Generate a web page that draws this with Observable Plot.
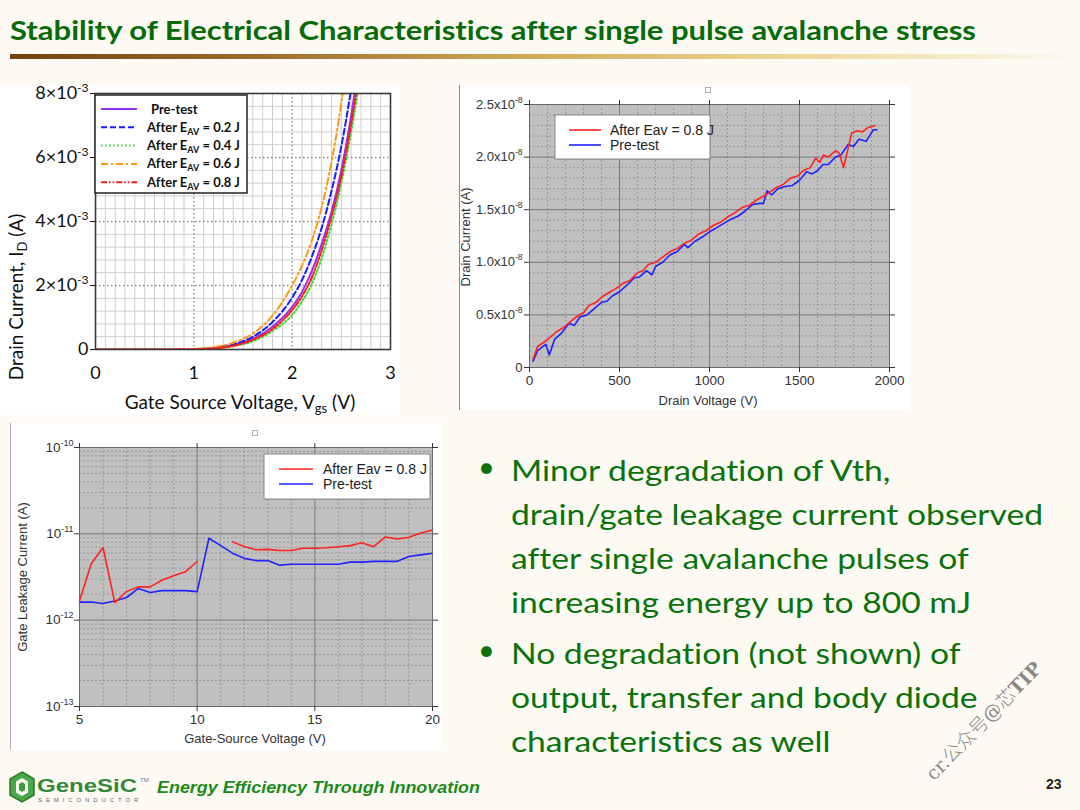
<!DOCTYPE html>
<html><head><meta charset="utf-8">
<script src="https://cdn.jsdelivr.net/npm/d3@7"></script>
<script src="https://cdn.jsdelivr.net/npm/@observablehq/plot@0.6"></script>
<style>
html,body{margin:0;padding:0;}
body{width:1080px;height:810px;position:relative;overflow:hidden;background:#fcfaf3;font-family:Lato,"Open Sans",sans-serif;font-variant-ligatures:none;font-feature-settings:"liga" 0,"clig" 0,"dlig" 0;}
.abs{position:absolute;}
.fit{white-space:nowrap;transform-origin:left top;}
.bul{position:absolute;left:0;font-size:29px;color:#0b720b;white-space:nowrap;}
svg text{font-variant-ligatures:none;}
</style></head><body>
<div id="title" class="abs fit" style="left:10px;top:13px;font-weight:bold;font-size:27px;color:#086a08;">Stability of Electrical Characteristics after single pulse avalanche stress</div>
<div class="abs" style="left:10px;top:54px;width:1070px;height:5px;background:linear-gradient(to right,#74410e 0%,#a0702f 25%,#d2ad5e 50%,#ecd593 72%,rgba(252,250,243,0) 100%);"></div>

<div id="p1" class="abs" style="left:0;top:85px;width:400px;height:330px;background:#fff;"></div>
<div id="p2" class="abs" style="left:459px;top:85px;width:449px;height:325px;background:#fff;border-left:1px solid #8a8a8a;"></div>
<div class="abs" style="left:705px;top:87px;width:4px;height:4px;border:1px solid #b0b0b0;"></div>
<div id="p3" class="abs" style="left:10px;top:423px;width:430px;height:327px;background:#fff;border-left:1px solid #b0b0b0;"></div>
<div class="abs" style="left:252px;top:430px;width:4px;height:4px;border:1px solid #b0b0b0;"></div>

<div id="bullets" class="abs" style="left:470px;top:448px;width:600px;height:310px;">
  <div class="bul" style="top:0;left:8px;">•</div>
  <div id="btext" class="fit" style="position:absolute;left:41px;top:0;font-size:29px;line-height:44px;color:#0b720b;">
    <div>Minor degradation of Vth,</div>
    <div>drain/gate leakage current observed</div>
    <div>after single avalanche pulses of</div>
    <div>increasing energy up to 800 mJ</div>
    <div style="margin-top:7px;">No degradation (not shown) of</div>
    <div>output, transfer and body diode</div>
    <div>characteristics as well</div>
  </div>
  <div class="bul" style="top:183px;left:8px;">•</div>
</div>

<div class="abs" style="left:928px;top:762px;font-family:'DejaVu Serif','Noto Sans CJK SC',serif;font-size:19px;color:rgba(105,105,105,0.8);transform:rotate(-45.8deg);transform-origin:left center;white-space:nowrap;">cr.<span style="font-family:'Noto Sans CJK SC';font-weight:300;">公众号</span>@<span style="font-family:'Noto Sans CJK SC';font-weight:300;">芯</span><b>TIP</b></div>

<svg class="abs" style="left:8px;top:771px;" width="28" height="32" viewBox="0 0 26 32">
  <polygon points="13,1 25,8 25,24 13,31 1,24 1,8" fill="#4aa84a" stroke="#2a7a2a" stroke-width="1.5"/>
  <polygon points="13,7 19,10.5 19,21.5 13,25 7,21.5 7,10.5" fill="#fcfaf3"/>
  <polygon points="13,11 16,13 16,19 13,21 10,19 10,13" fill="#3c9a3c"/>
</svg>
<div id="logo" class="abs fit" style="left:37px;top:776px;font-family:'Liberation Sans',Arial,sans-serif;font-weight:bold;font-size:19px;line-height:19px;color:#34883a;">GeneSiC</div>
<div class="abs" style="left:140px;top:777px;font-family:'Liberation Sans',Arial,sans-serif;font-size:6px;color:#777;">TM</div>
<div class="abs" style="left:38px;top:797px;font-family:'Liberation Sans',Arial,sans-serif;font-size:6px;color:#666;letter-spacing:3.9px;">SEMICONDUCTOR</div>
<div id="slogan" class="abs fit" style="left:157px;top:778px;font-family:'Liberation Sans',Arial,sans-serif;font-weight:bold;font-style:italic;font-size:17px;color:#1b8a1b;">Energy Efficiency Through Innovation</div>
<div class="abs" style="left:1046px;top:776px;font-family:'Liberation Sans',Arial,sans-serif;font-weight:bold;font-size:14px;color:#222;">23</div>

<script>
// ---------- Chart 1: transfer characteristics (ID in units of 1e-3 A) ----------
const vgs = [0, 0.5, 1.0, 1.2, 1.4, 1.6, 1.8, 2.0, 2.1, 2.2, 2.3, 2.4, 2.5, 2.6, 2.7];
const idPreTest = [0, 0.001, 0.01, 0.04, 0.13, 0.33, 0.71, 1.33, 1.8, 2.45, 3.3, 4.3, 5.6, 7.3, 9.5];
const id02J = [0, 0.001, 0.015, 0.05, 0.16, 0.4, 0.86, 1.62, 2.17, 2.9, 3.8, 4.95, 6.35, 8.15, 10.3];
const id04J = [0, 0.001, 0.008, 0.03, 0.1, 0.26, 0.58, 1.08, 1.5, 2.05, 2.85, 3.9, 5.2, 6.8, 8.7];
const id06J = [0, 0.001, 0.02, 0.07, 0.21, 0.5, 1.06, 2.0, 2.62, 3.4, 4.45, 5.85, 7.7, 10.0, 12.8];
const id08J = [0, 0.001, 0.01, 0.035, 0.115, 0.3, 0.64, 1.23, 1.66, 2.25, 3.1, 4.15, 5.4, 7.05, 9.0];
const series1Names = ["Pre-test", "After E_AV = 0.2 J", "After E_AV = 0.4 J", "After E_AV = 0.6 J", "After E_AV = 0.8 J"];
const series1Colors = ["#9a30f0", "#1a1aff", "#33dd33", "#ff9914", "#ff1a1a"];
const series1Dash = [null, "6,3", "1.6,2.4", "7,3,2,3", "6,2,1.6,2,1.6,2"];
const x1Ticks = [0, 1, 2, 3];
const y1Ticks = [0, 2, 4, 6, 8];
const y1TickLabels = ["0", "2×10^-3", "4×10^-3", "6×10^-3", "8×10^-3"];

// ---------- Chart 2: drain leakage (ID in units of 1e-8 A) ----------
const vdAfter = [20,45,80,110,150,190,230,260,300,330,370,410,440,480,520,560,600,630,660,700,740,780,820,860,900,940,980,1020,1060,1100,1140,1180,1220,1260,1300,1330,1370,1410,1450,1490,1520,1560,1590,1612,1634,1658,1700,1720,1745,1790,1820,1850,1880,1920];
const idAfter = [0.08,0.2,0.24,0.28,0.34,0.38,0.44,0.48,0.52,0.59,0.62,0.68,0.71,0.75,0.8,0.83,0.9,0.92,0.98,1.0,1.05,1.1,1.13,1.18,1.21,1.27,1.3,1.35,1.38,1.43,1.47,1.52,1.54,1.59,1.63,1.66,1.71,1.74,1.8,1.82,1.87,1.9,1.99,1.95,2.02,2.0,2.06,2.04,1.9,2.23,2.25,2.24,2.28,2.30];
const vdPre = [20,45,90,110,140,180,220,250,280,320,360,400,430,460,500,540,580,610,650,680,700,740,780,820,860,880,920,960,1000,1040,1080,1120,1160,1200,1240,1280,1300,1320,1345,1380,1420,1460,1500,1540,1570,1600,1630,1660,1700,1730,1770,1800,1830,1870,1910,1930];
const idPre = [0.06,0.16,0.22,0.12,0.27,0.33,0.42,0.40,0.48,0.50,0.56,0.62,0.63,0.68,0.72,0.78,0.85,0.86,0.92,0.88,0.96,1.0,1.07,1.1,1.17,1.14,1.2,1.24,1.29,1.33,1.37,1.41,1.44,1.49,1.55,1.56,1.56,1.68,1.64,1.7,1.72,1.73,1.78,1.86,1.84,1.87,1.93,1.93,2.0,2.02,2.12,2.1,2.17,2.15,2.26,2.26];
const x2Ticks = [0, 500, 1000, 1500, 2000];
const y2Ticks = [0, 0.5, 1.0, 1.5, 2.0, 2.5];
const y2TickLabels = ["0", "0.5x10^-8", "1.0x10^-8", "1.5x10^-8", "2.0x10^-8", "2.5x10^-8"];
const leakNames = ["After Eav = 0.8 J", "Pre-test"];
const leakColors = ["#ff2222", "#2222ff"];

// ---------- Chart 3: gate leakage (A) ----------
const vgsLeak = [5,5.5,6,6.5,7,7.5,8,8.5,9,9.5,10,10.5,11,11.5,12,12.5,13,13.5,14,14.5,15,15.5,16,16.5,17,17.5,18,18.5,19,19.5,20];
const igAfter = [1.67e-12,4.5e-12,6.95e-12,1.6e-12,2.15e-12,2.43e-12,2.43e-12,2.9e-12,3.27e-12,3.63e-12,4.78e-12,null,null,8.07e-12,7.13e-12,6.53e-12,6.6e-12,6.4e-12,6.4e-12,6.8e-12,6.8e-12,6.9e-12,7.1e-12,7.3e-12,7.9e-12,7.1e-12,9.2e-12,8.7e-12,9.1e-12,1.02e-11,1.11e-11];
const igPre = [1.62e-12,1.62e-12,1.56e-12,1.67e-12,1.83e-12,2.33e-12,2.09e-12,2.2e-12,2.2e-12,2.2e-12,2.14e-12,8.9e-12,7.3e-12,5.97e-12,5.2e-12,4.9e-12,4.9e-12,4.34e-12,4.45e-12,4.45e-12,4.45e-12,4.45e-12,4.45e-12,4.7e-12,4.7e-12,4.8e-12,4.8e-12,4.8e-12,5.46e-12,5.7e-12,5.97e-12];
const x3Ticks = [5, 10, 15, 20];
const y3Ticks = [1e-13, 1e-12, 1e-11, 1e-10];
const y3TickLabels = ["10^-13", "10^-12", "10^-11", "10^-10"];

// ---------- helpers ----------
function addText(svg, o) {
  const t = d3.select(svg).append("text")
    .attr("transform", `translate(${o.x},${o.y}) rotate(${o.rotate || 0})`)
    .attr("text-anchor", o.anchor || "start")
    .attr("font-family", o.family).attr("font-size", o.size)
    .attr("font-weight", o.weight || "normal").attr("fill", o.fill || "#111");
  let shift = 0;
  o.parts.forEach(p => {
    if (typeof p === "string") {
      t.append("tspan").attr("dy", -shift).text(p); shift = 0;
    } else {
      const d = p.sub ? p.dy : -p.dy;
      t.append("tspan").attr("dy", d - shift).attr("font-size", p.size).text(p.t); shift = d;
    }
  });
  return t;
}
function labelParts(name, subSize, dy) {
  const m = name.split("_");
  if (m.length === 1) return [name];
  const rest = m[1];
  const sub = rest.match(/^[A-Za-z]+/)[0];
  return [m[0], {t: sub, sub: true, size: subSize, dy}, rest.slice(sub.length)];
}
// turn "a^b" tick labels into a base + raised superscript
function superscriptify(svg, supSize, rise) {
  d3.select(svg).selectAll("text").each(function () {
    const s = this.textContent;
    if (!s.includes("^")) return;
    const [base, sup] = s.split("^");
    const t = d3.select(this);
    t.text(null);
    t.append("tspan").text(base);
    t.append("tspan").attr("dy", -rise).attr("font-size", supSize).text(sup);
  });
}
const range = (a, b, s) => d3.range(a, b + s / 2, s).map(v => +v.toFixed(6));

// ---------- Chart 1 ----------
{
  const data = [idPreTest, id02J, id04J, id06J, id08J];
  const x1Minor = range(0.1, 2.9, 0.1).filter(v => Math.abs(v - Math.round(v)) > 1e-6);
  const y1Minor = range(0.4, 7.6, 0.4).filter(v => Math.abs(v / 2 - Math.round(v / 2)) > 1e-6);
  const lines = data.map((arr, k) => Plot.line(vgs.map((v, i) => ({v, i: arr[i]})), {
    x: "v", y: "i", stroke: series1Colors[k], strokeWidth: 2, strokeDasharray: series1Dash[k],
    curve: "monotone-x", clip: true
  }));
  const svg = Plot.plot({
    width: 400, height: 330, marginLeft: 95, marginRight: 10, marginTop: 8, marginBottom: 66,
    style: {background: "transparent", fontFamily: "Lato, sans-serif", color: "#111", overflow: "visible"},
    x: {domain: [0, 3]}, y: {domain: [0, 8]},
    marks: [
      Plot.ruleX(x1Minor, {stroke: "#cdcdcd", strokeWidth: 1}),
      Plot.ruleY(y1Minor, {stroke: "#cdcdcd", strokeWidth: 1}),
      Plot.ruleX([1, 2], {stroke: "#8a8a8a", strokeWidth: 1.4, strokeDasharray: "1.5,2.5"}),
      Plot.ruleY([2, 4, 6], {stroke: "#8a8a8a", strokeWidth: 1.4, strokeDasharray: "1.5,2.5"}),
      ...lines,
      Plot.frame({stroke: "#3a3a3a", strokeWidth: 1.6}),
      Plot.axisX({ticks: x1Ticks, tickSize: 0, tickPadding: 17, fontSize: 18, label: null, tickFormat: d => String(d)}),
      Plot.axisY({ticks: y1Ticks, tickSize: 5, tickPadding: 2, fontSize: 18, label: null,
        tickFormat: d => y1TickLabels[y1Ticks.indexOf(d)]})
    ]
  });
  document.getElementById("p1").appendChild(svg);
  superscriptify(svg, 12, 7);
  addText(svg, {x: 23, y: 212, rotate: -90, anchor: "middle", family: "Lato, sans-serif", size: 19,
    parts: ["Drain Current, I", {t: "D", sub: true, size: 13, dy: 4}, " (A)"]});
  addText(svg, {x: 240, y: 324, anchor: "middle", family: "Lato, sans-serif", size: 19,
    parts: ["Gate Source Voltage, V", {t: "gs", sub: true, size: 13, dy: 4}, " (V)"]});
  const g = d3.select(svg);
  g.append("rect").attr("x", 95).attr("y", 10).attr("width", 152).attr("height", 98)
    .attr("fill", "#fff").attr("stroke", "#222").attr("stroke-width", 1.5);
  series1Names.forEach((n, k) => {
    const yy = 24 + k * 18.3;
    g.append("line").attr("x1", 101).attr("x2", 137).attr("y1", yy).attr("y2", yy)
      .attr("stroke", series1Colors[k]).attr("stroke-width", 2).attr("stroke-dasharray", series1Dash[k]);
    addText(svg, {x: k === 0 ? 151 : 147, y: yy + 4.5, family: "Lato, sans-serif", size: 13, weight: "bold",
      parts: labelParts(n, 9, 3)});
  });
}

// ---------- Chart 2 ----------
{
  const x2Minor = range(100, 1900, 100).filter(v => v % 500 !== 0);
  const y2Minor = range(0.1, 2.4, 0.1).filter(v => Math.abs(v * 2 - Math.round(v * 2)) > 1e-6);
  const dAfter = vdAfter.map((v, i) => ({v, i: idAfter[i]}));
  const dPre = vdPre.map((v, i) => ({v, i: idPre[i]}));
  const svg = Plot.plot({
    width: 449, height: 325, marginLeft: 69, marginRight: 20, marginTop: 19, marginBottom: 43,
    style: {background: "transparent", fontFamily: "'Liberation Sans', Arial, sans-serif", color: "#333", overflow: "visible"},
    x: {domain: [0, 2000]}, y: {domain: [0, 2.5]},
    marks: [
      Plot.frame({fill: "#c0c0c0", stroke: null}),
      Plot.ruleX(x2Minor, {stroke: "#8e8e8e", strokeWidth: 0.8, strokeDasharray: "2,2"}),
      Plot.ruleY(y2Minor, {stroke: "#8e8e8e", strokeWidth: 0.8, strokeDasharray: "2,2"}),
      Plot.ruleX([500, 1000, 1500], {stroke: "#7a7a7a", strokeWidth: 1}),
      Plot.ruleY([0.5, 1.0, 1.5, 2.0], {stroke: "#7a7a7a", strokeWidth: 1}),
      Plot.line(dPre, {x: "v", y: "i", stroke: leakColors[1], strokeWidth: 1.6}),
      Plot.line(dAfter, {x: "v", y: "i", stroke: leakColors[0], strokeWidth: 1.6}),
      Plot.frame({stroke: "#6a6a6a", strokeWidth: 1}),
      Plot.axisX({ticks: x2Ticks, tickSize: 5, tickPadding: 3, fontSize: 13.5, label: null, tickFormat: d => String(d)}),
      Plot.axisX({ticks: x2Ticks, anchor: "top", tickSize: 5, label: null, tickFormat: () => ""}),
      Plot.axisY({ticks: y2Ticks, tickSize: 5, tickPadding: 2, fontSize: 13, label: null,
        tickFormat: d => y2TickLabels[y2Ticks.indexOf(d)]}),
      Plot.axisY({ticks: y2Ticks, anchor: "right", tickSize: 5, label: null, tickFormat: () => ""})
    ]
  });
  document.getElementById("p2").appendChild(svg);
  superscriptify(svg, 8.5, 6);
  addText(svg, {x: 10, y: 152, rotate: -90, anchor: "middle", family: "'Liberation Sans', Arial, sans-serif", size: 13, fill: "#333",
    parts: ["Drain Current (A)"]});
  addText(svg, {x: 248, y: 320, anchor: "middle", family: "'Liberation Sans', Arial, sans-serif", size: 13, fill: "#333",
    parts: ["Drain Voltage (V)"]});
  const g = d3.select(svg);
  g.append("rect").attr("x", 96).attr("y", 31).attr("width", 155).attr("height", 44).attr("fill", "#999").attr("opacity", 0.6);
  g.append("rect").attr("x", 95).attr("y", 30).attr("width", 155).attr("height", 44)
    .attr("fill", "#fff").attr("stroke", "#8a8a8a").attr("stroke-width", 1);
  leakNames.forEach((n, k) => {
    const yy = 45 + k * 15;
    g.append("line").attr("x1", 109).attr("x2", 141).attr("y1", yy).attr("y2", yy)
      .attr("stroke", leakColors[k]).attr("stroke-width", 1.6);
    addText(svg, {x: 150, y: yy + 5, family: "'Liberation Sans', Arial, sans-serif", size: 14, fill: "#222", parts: [n]});
  });
}

// ---------- Chart 3 ----------
{
  const x3Minor = range(6, 19, 1).filter(v => v % 5 !== 0);
  const y3Minor = [1e-13, 1e-12, 1e-11].flatMap(b => [2, 3, 4, 5, 6, 7, 8, 9].map(m => m * b));
  const dAfter = vgsLeak.map((v, i) => ({v, i: igAfter[i]}));
  const dPre = vgsLeak.map((v, i) => ({v, i: igPre[i]}));
  const svg = Plot.plot({
    width: 430, height: 327, marginLeft: 68, marginRight: 9, marginTop: 24, marginBottom: 44,
    style: {background: "transparent", fontFamily: "'Liberation Sans', Arial, sans-serif", color: "#333", overflow: "visible"},
    x: {domain: [5, 20]}, y: {type: "log", domain: [1e-13, 1e-10]},
    marks: [
      Plot.frame({fill: "#c0c0c0", stroke: null}),
      Plot.ruleX(x3Minor, {stroke: "#8e8e8e", strokeWidth: 0.8, strokeDasharray: "2,2"}),
      Plot.ruleY(y3Minor, {stroke: "#8e8e8e", strokeWidth: 0.8, strokeDasharray: "2,2"}),
      Plot.ruleX([10, 15], {stroke: "#7a7a7a", strokeWidth: 1}),
      Plot.ruleY([1e-12, 1e-11], {stroke: "#7a7a7a", strokeWidth: 1}),
      Plot.line(dPre, {x: "v", y: "i", stroke: leakColors[1], strokeWidth: 1.6}),
      Plot.line(dAfter, {x: "v", y: "i", stroke: leakColors[0], strokeWidth: 1.6}),
      Plot.frame({stroke: "#6a6a6a", strokeWidth: 1}),
      Plot.axisX({ticks: x3Ticks, tickSize: 5, tickPadding: 3, fontSize: 13.5, label: null, tickFormat: d => String(d)}),
      Plot.axisX({ticks: x3Ticks, anchor: "top", tickSize: 5, label: null, tickFormat: () => ""}),
      Plot.axisY({ticks: y3Ticks, tickSize: 5, tickPadding: 1, fontSize: 13.5, label: null,
        tickFormat: d => y3TickLabels[y3Ticks.findIndex(t => Math.abs(Math.log10(t) - Math.log10(d)) < 1e-6)]}),
      Plot.axisY({ticks: y3Ticks, anchor: "right", tickSize: 5, label: null, tickFormat: () => ""})
    ]
  });
  document.getElementById("p3").appendChild(svg);
  superscriptify(svg, 9, 6);
  addText(svg, {x: 16, y: 154, rotate: -90, anchor: "middle", family: "'Liberation Sans', Arial, sans-serif", size: 13, fill: "#333",
    parts: ["Gate Leakage Current (A)"]});
  addText(svg, {x: 244, y: 320, anchor: "middle", family: "'Liberation Sans', Arial, sans-serif", size: 13, fill: "#333",
    parts: ["Gate-Source Voltage (V)"]});
  const g = d3.select(svg);
  g.append("rect").attr("x", 254).attr("y", 32).attr("width", 166).attr("height", 45).attr("fill", "#999").attr("opacity", 0.6);
  g.append("rect").attr("x", 253).attr("y", 31).attr("width", 166).attr("height", 45)
    .attr("fill", "#fff").attr("stroke", "#8a8a8a").attr("stroke-width", 1);
  leakNames.forEach((n, k) => {
    const yy = 46 + k * 15;
    g.append("line").attr("x1", 268).attr("x2", 302).attr("y1", yy).attr("y2", yy)
      .attr("stroke", leakColors[k]).attr("stroke-width", 1.6);
    addText(svg, {x: 312, y: yy + 5, family: "'Liberation Sans', Arial, sans-serif", size: 14, fill: "#222", parts: [n]});
  });
}

// ---------- fit slide texts to the reference widths ----------
function fitWidth(id, target) {
  const el = document.getElementById(id);
  el.style.display = "inline-block";
  const w = el.getBoundingClientRect().width;
  el.style.transform = `scaleX(${target / w})`;
}
fitWidth("title", 966);
fitWidth("slogan", 323);
fitWidth("logo", 100);
{
  const el = document.getElementById("btext");
  el.style.display = "inline-block";
  const w = el.children[1].getBoundingClientRect().width;
  el.style.transform = `scaleX(${532 / w})`;
}
</script>
</body></html>
